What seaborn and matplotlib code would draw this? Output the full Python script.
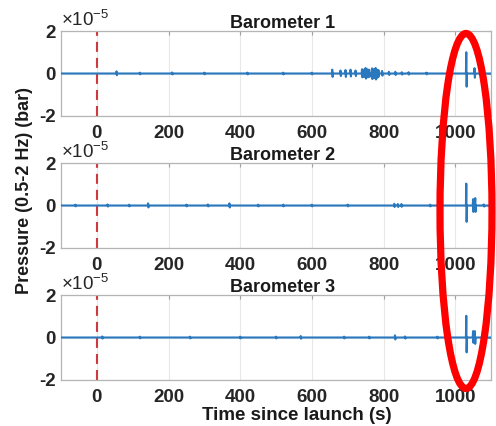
import numpy as np
import pandas as pd
import matplotlib
matplotlib.use("Agg")
import matplotlib.pyplot as plt
from matplotlib.patches import Ellipse
import seaborn as sns

# Band-passed (0.5-2 Hz) pressure, in units of 1e-5 bar.
# Each barometer trace is a flat baseline with short oscillation bursts:
# burst time (s), positive peak, negative trough.
b1_times = [55, 120, 210, 300, 420, 520, 600, 657, 680, 694, 708, 722, 740, 745,
            750, 755, 760, 768, 772, 778, 782, 786, 796, 815, 833, 851, 870, 920,
            980, 1031, 1054, 1075]
b1_peaks = [0.10, 0.04, 0.05, 0.04, 0.04, 0.04, 0.04, 0.18, 0.14, 0.16, 0.18, 0.14,
            0.20, 0.18, 0.26, 0.20, 0.18, 0.24, 0.20, 0.26, 0.18, 0.16, 0.12, 0.08,
            0.08, 0.06, 0.06, 0.04, 0.04, 1.00, 0.25, 0.05]
b1_troughs = [0.08, 0.04, 0.04, 0.04, 0.04, 0.04, 0.04, 0.16, 0.12, 0.16, 0.14, 0.12,
              0.18, 0.16, 0.24, 0.18, 0.16, 0.26, 0.22, 0.28, 0.20, 0.14, 0.10, 0.07,
              0.07, 0.05, 0.05, 0.04, 0.04, 0.62, 0.20, 0.04]

b2_times = [-60, 30, 90, 143, 250, 310, 370, 450, 520, 600, 700, 830, 840, 850,
            930, 1031, 1050, 1056, 1080]
b2_peaks = [0.04, 0.05, 0.04, 0.10, 0.04, 0.05, 0.10, 0.04, 0.04, 0.04, 0.04, 0.08,
            0.07, 0.07, 0.04, 1.03, 0.30, 0.35, 0.05]
b2_troughs = [0.04, 0.05, 0.04, 0.09, 0.04, 0.04, 0.09, 0.04, 0.04, 0.04, 0.04, 0.07,
              0.07, 0.06, 0.04, 0.77, 0.30, 0.30, 0.05]

b3_times = [15, 120, 260, 400, 500, 569, 690, 760, 832, 860, 950, 1031, 1050, 1055, 1080]
b3_peaks = [0.05, 0.04, 0.04, 0.04, 0.04, 0.07, 0.04, 0.04, 0.10, 0.05, 0.04, 1.02,
            0.30, 0.30, 0.05]
b3_troughs = [0.05, 0.04, 0.04, 0.04, 0.04, 0.06, 0.04, 0.04, 0.09, 0.05, 0.04, 0.70,
              0.25, 0.30, 0.05]

titles = ["Barometer 1", "Barometer 2", "Barometer 3"]
x_ticks = [0, 200, 400, 600, 800, 1000]
y_ticks = [-2, 0, 2]
x_range = (-100, 1100)
y_range = (-2, 2)
launch_time = 0


def trace_frame(times, peaks, troughs):
    """Vertices of a trace: zero baseline with an up/down swing at each burst."""
    t = [x_range[0]]
    p = [0.0]
    for tc, up, dn in zip(times, peaks, troughs):
        t += [tc - 1.0, tc, tc + 1.0, tc + 2.0]
        p += [0.0, up, -dn, 0.0]
    t.append(x_range[1])
    p.append(0.0)
    return pd.DataFrame({"time": t, "pressure": p})


traces = [trace_frame(b1_times, b1_peaks, b1_troughs),
          trace_frame(b2_times, b2_peaks, b2_troughs),
          trace_frame(b3_times, b3_peaks, b3_troughs)]

sns.set_style("whitegrid")
plt.rcParams["font.family"] = ["Liberation Sans", "DejaVu Sans"]
plt.rcParams["axes.unicode_minus"] = False
plt.rcParams["mathtext.fontset"] = "custom"
plt.rcParams["mathtext.rm"] = "Liberation Sans:normal"
plt.rcParams["mathtext.it"] = "Liberation Sans:normal"
plt.rcParams["mathtext.default"] = "rm"

fig = plt.figure(figsize=(4.96, 4.26), dpi=100)
left, width = 61 / 496, 430 / 496
bottoms = [1 - 116 / 426, 1 - 248 / 426, 1 - 380 / 426]
height = 85 / 426

line_color = "#2a78bd"
for i, df in enumerate(traces):
    ax = fig.add_axes([left, bottoms[i], width, height])
    sns.lineplot(data=df, x="time", y="pressure", ax=ax, color=line_color,
                 linewidth=1.5, estimator=None, sort=False, zorder=3)
    ax.axvline(launch_time, color="#cc3a40", linewidth=1.5, dashes=(4.8, 2.9),
               zorder=2)
    ax.set_xlim(*x_range)
    ax.set_ylim(*y_range)
    ax.set_xticks(x_ticks)
    ax.set_yticks(y_ticks)
    ax.set_xticklabels([str(v) for v in x_ticks], fontsize=13.5, fontweight="bold",
                       color="#262626")
    ax.set_yticklabels([str(v) for v in y_ticks], fontsize=13.5, fontweight="bold",
                       color="#262626")
    ax.set_xlabel("")
    ax.set_ylabel("")
    ax.grid(True, color="#e8e8e8", linewidth=0.8)
    ax.tick_params(axis="both", direction="in", length=3, color="#a0a0a0",
                   top=True, right=True, pad=4)
    ax.tick_params(axis="x", pad=6.5)
    for s in ax.spines.values():
        s.set_visible(True)
        s.set_color("#b5b5b5")
        s.set_linewidth(0.9)
    ax.set_title(titles[i], fontsize=13, fontweight="bold", color="#1a1a1a",
                 x=0.516, pad=2)
    ax.text(0.0, 1.015, r"$\times10^{-5}$", transform=ax.transAxes, ha="left",
            va="bottom", fontsize=13.5, color="#262626")

fig.text(0.05, 0.552, "Pressure (0.5-2 Hz) (bar)", rotation=90, ha="center",
         va="center", fontsize=13, fontweight="bold", color="#1a1a1a")
fig.text(297 / 496, 1 - 415 / 426, "Time since launch (s)", ha="center",
         va="center", fontsize=13.5, fontweight="bold", color="#1a1a1a")

# Highlight of the late arrivals across all three sensors
fig.patches.append(Ellipse((466 / 496, 1 - 211 / 426), 52 / 496, 355 / 426,
                           transform=fig.transFigure, fill=False,
                           edgecolor="#ff0000", linewidth=5.2, zorder=10))

fig.savefig("out.png", dpi=100)
